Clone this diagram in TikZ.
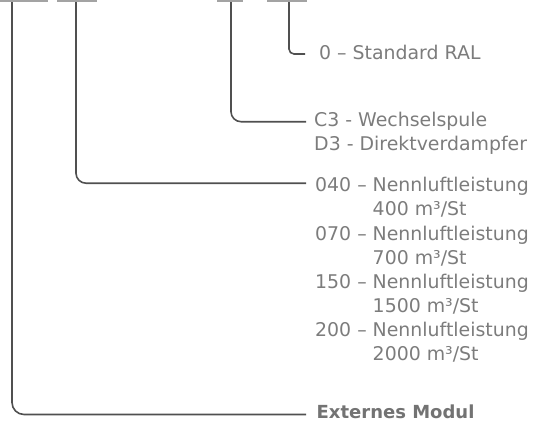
\documentclass[tikz,border=0pt]{standalone}
\usepackage{fontspec}
\setmainfont{DejaVu Sans}
\definecolor{txtgray}{HTML}{7C7C7C}
\definecolor{boldgray}{HTML}{737373}
\definecolor{linegray}{HTML}{505050}
\definecolor{bargray}{HTML}{A3A3A3}
\tikzset{
  bar/.style={draw=bargray, line width=2pt},
  conn/.style={draw=linegray, line width=1.6pt},
  lbl/.style={anchor=base west, inner sep=0pt, text=txtgray, font=\fontsize{18.9}{22}\selectfont},
  boldlbl/.style={lbl, text=boldgray, font=\fontsize{18}{22}\selectfont\bfseries},
}
\begin{document}
\begin{tikzpicture}[x=1pt,y=-1pt]
\useasboundingbox (0,0) rectangle (541,421);
% top bars
\draw[bar] (0,1) -- (48,1);
\draw[bar] (57,1) -- (97,1);
\draw[bar] (217,1) -- (243,1);
\draw[bar] (267,1) -- (307,1);
\coordinate (b1) at (12,2);
\coordinate (b2) at (76,2);
\coordinate (b3) at (231,2);
\coordinate (b4) at (289,2);
% labels
\node[lbl] (ral) at (319,59.5) {0 – Standard RAL};
\node[lbl] (c3) at (314,126.7) {C3 - Wechselspule};
\node[lbl] (d3) at (314,150.7) {D3 - Direktverdampfer};
\node[lbl] (f040) at (315,191.7) {040 – Nennluftleistung};
\node[lbl] (f400) at (315,215.85) {\phantom{040 – }400 m³/St};
\node[lbl] (f070) at (315,240) {070 – Nennluftleistung};
\node[lbl] (f700) at (315,264.15) {\phantom{070 – }700 m³/St};
\node[lbl] (f150) at (315,288.3) {150 – Nennluftleistung};
\node[lbl] (f1500) at (315,312.45) {\phantom{150 – }1500 m³/St};
\node[lbl] (f200) at (315,336.6) {200 – Nennluftleistung};
\node[lbl] (f2000) at (315,360.75) {\phantom{200 – }2000 m³/St};
\node[boldlbl] (ext) at (316.5,418) {Externes Modul};
% connectors
\draw[conn, rounded corners=5pt] (b4) |- ([xshift=-14pt,yshift=5.5pt]ral.base west);
\draw[conn, rounded corners=10pt] (b3) |- ([xshift=-8pt,yshift=5pt]c3.base west);
\draw[conn, rounded corners=10pt] (b2) |- ([xshift=-9pt,yshift=8.5pt]f040.base west);
\draw[conn, rounded corners=12pt] (b1) |- ([xshift=-10.5pt,yshift=3.5pt]ext.base west);
\end{tikzpicture}
\end{document}
